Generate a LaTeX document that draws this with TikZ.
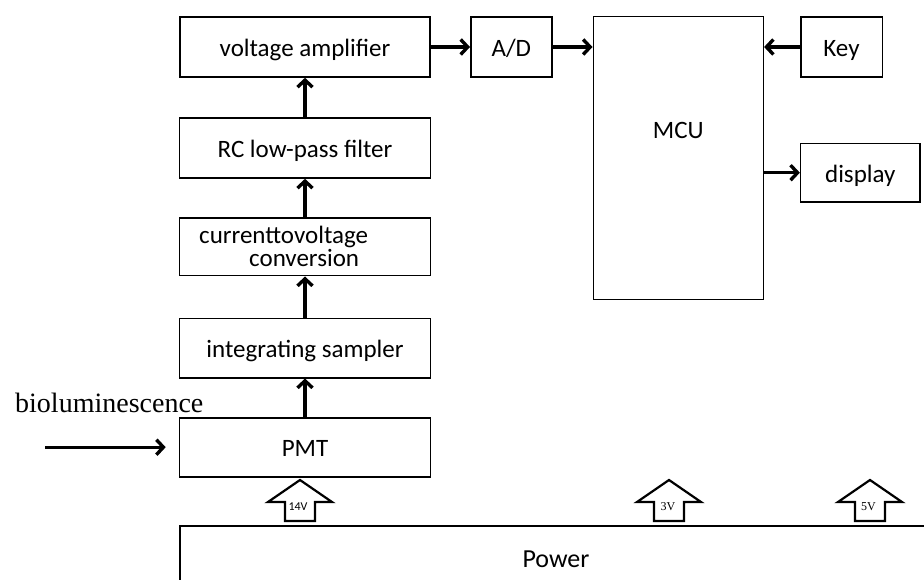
\documentclass[tikz,border=0pt]{standalone}
\usepackage{fontspec}
\setmainfont{Carlito}
\newfontfamily\seriffont{Liberation Serif}
\usetikzlibrary{arrows.meta}
\begin{document}
\begin{tikzpicture}[x=1pt,y=-1pt,
  box/.style={draw, line width=1.6pt, inner sep=0pt, text height=19pt, text depth=0pt,
    font=\fontsize{25}{30}\selectfont},
  txt/.style={inner sep=0pt, font=\fontsize{25}{30}\selectfont},
  conn/.style={line width=3.4pt, -{Straight Barb[length=7pt,width=15pt]}},
  pwr/.style={draw, line width=2.2pt, fill=white, line join=miter},
  vlab/.style={inner sep=0pt, font=\seriffont\fontsize{12}{14}\selectfont}]
\useasboundingbox (0,0) rectangle (924,580);
\clip (0,0) rectangle (924,580);

% boxes
\node[box, minimum width=250pt, minimum height=60pt] (va) at (305,47) {voltage amplifier};
\node[box, minimum width=81pt, minimum height=60pt] (ad) at (511.3,47) {A/D};
\node[box, minimum width=170pt, minimum height=282.6pt] (mcu) at (678.3,158) {};
\node[txt, anchor=base] (mcutext) at (678.3,138.5) {MCU};
\node[box, minimum width=81.6pt, minimum height=60pt] (key) at (841.5,47) {Key};
\node[box, minimum width=119.3pt, minimum height=58.7pt] (disp) at (860.3,172.7) {display};
\node[box, minimum width=251pt, minimum height=60pt] (rc) at (305,148) {RC low-pass filter};
\node[box, minimum width=251pt, minimum height=57.4pt] (c2v) at (305,247) {};
\node[txt, anchor=base west] (c2va) at (199,243.5) {currenttovoltage};
\node[txt, anchor=base west] (c2vb) at (249,267) {conversion};
\node[box, minimum width=251pt, minimum height=59.4pt] (samp) at (305,348) {integrating sampler};
\node[box, minimum width=251pt, minimum height=59pt] (pmt) at (305,447.2) {PMT};
\node[box, minimum width=752pt, minimum height=64pt, font=\fontsize{26}{30}\selectfont] (power) at (556,558) {Power};

% bioluminescence
\node[inner sep=0pt, anchor=base west, font=\seriffont\fontsize{28}{32}\selectfont] (bio) at (15,412) {bioluminescence};
\coordinate (bstart) at (45,447.2);
\draw[conn, shorten >=13pt] (bstart) -- (pmt.west);

% connectors
\draw[conn] (va.east) -- (ad.west);
\draw[conn] (ad.east) -- (mcu.west |- ad.east);
\draw[conn] (key.west) -- (mcu.east |- key.west);
\draw[conn] (mcu.east |- disp.west) -- (disp.west);
\draw[conn] (rc.north) -- (va.south);
\draw[conn] (c2v.north) -- (rc.south);
\draw[conn] (samp.north) -- (c2v.south);
\draw[conn] (pmt.north) -- (samp.south);

% power arrows
\foreach \cx in {300, 669, 870}{
  \draw[pwr] (\cx,480) -- (\cx-32,502) -- (\cx-15,502) -- (\cx-15,521)
     -- (\cx+15,521) -- (\cx+15,502) -- (\cx+32,502) -- cycle;
}
\node[vlab, font=\fontsize{12}{14}\selectfont] (v14) at (298,506.5) {14V};
\node[vlab] (v3) at (668,506.5) {3V};
\node[vlab] (v5) at (868.5,506.5) {5V};
\end{tikzpicture}
\end{document}
